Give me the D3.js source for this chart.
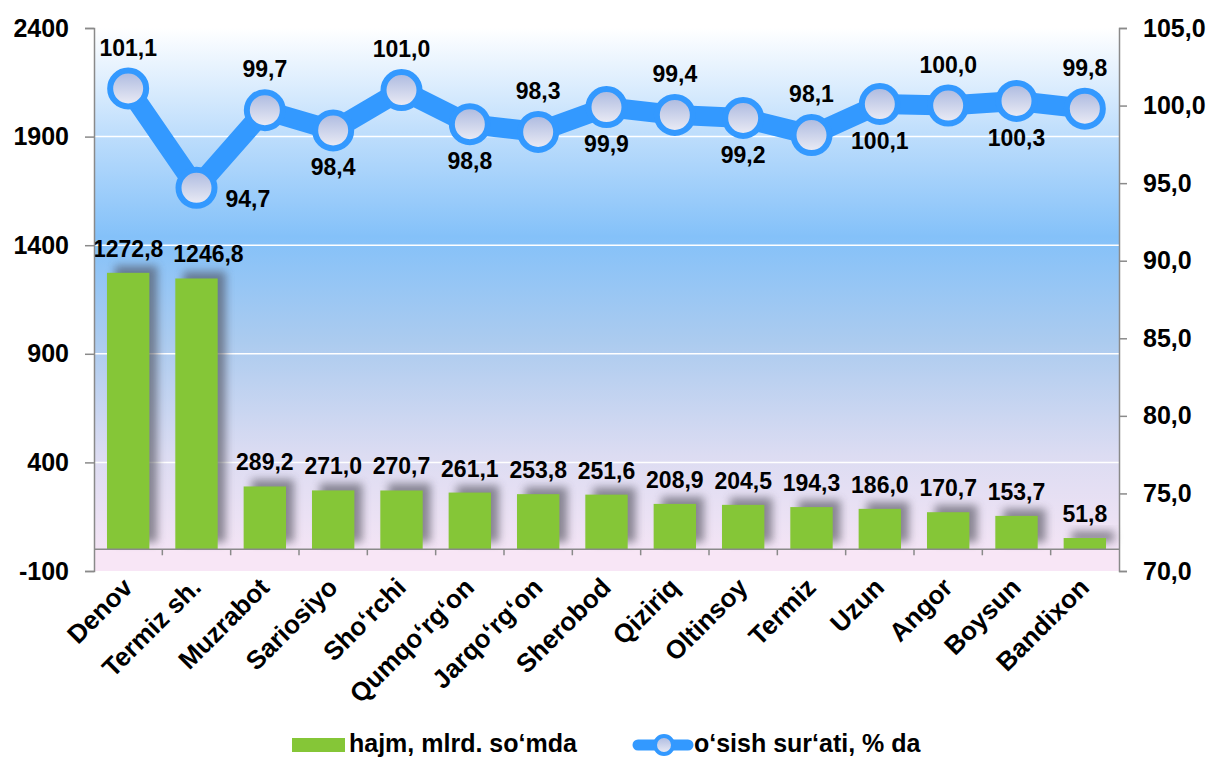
<!DOCTYPE html>
<html>
<head>
<meta charset="utf-8">
<script src="https://cdn.jsdelivr.net/npm/d3@7"></script>
<style>
  body { margin: 0; background: #fff; }
  svg { display: block; font-family: "Liberation Sans", Arial, sans-serif; font-weight: bold; }
</style>
</head>
<body>
<div id="chart"></div>
<script>
(function () {

// data
var districts = ["Denov", "Termiz sh.", "Muzrabot", "Sariosiyo", "Sho‘rchi", "Qumqo‘rg‘on",
  "Jarqo‘rg‘on", "Sherobod", "Qiziriq", "Oltinsoy", "Termiz", "Uzun", "Angor", "Boysun", "Bandixon"];
var volume = [1272.8, 1246.8, 289.2, 271.0, 270.7, 261.1, 253.8, 251.6, 208.9, 204.5, 194.3, 186.0, 170.7, 153.7, 51.8];
var growth = [101.1, 94.7, 99.7, 98.4, 101.0, 98.8, 98.3, 99.9, 99.4, 99.2, 98.1, 100.1, 100.0, 100.3, 99.8];
var leftTicks = [-100, 400, 900, 1400, 1900, 2400];
var rightTicks = [70, 75, 80, 85, 90, 95, 100, 105];
var legendNames = ["hajm, mlrd. so‘mda", "o‘sish sur‘ati, % da"];

var width = 1211, height = 758;
var margin = {top: 28, right: 92, bottom: 187, left: 94};
var innerW = width - margin.left - margin.right;
var innerH = height - margin.top - margin.bottom;

var barColor = "#85c637";
var lineColor = "#3399ff";
var comma = function (v) { return d3.format(".1f")(v).replace(".", ","); };

var svg = d3.select("#chart").append("svg")
    .attr("width", width)
    .attr("height", height);

var defs = svg.append("defs");

var bg = defs.append("linearGradient").attr("id", "bg")
    .attr("x1", 0).attr("y1", 0).attr("x2", 0).attr("y2", 1);
[["0%", "#ffffff"], ["20%", "#bfdefc"], ["40%", "#84c1f9"], ["60%", "#abcbef"],
 ["82%", "#dcdcf2"], ["100%", "#f3e4f5"]].forEach(function (s) {
  bg.append("stop").attr("offset", s[0]).attr("stop-color", s[1]);
});

var mk = defs.append("linearGradient").attr("id", "mk")
    .attr("x1", 0).attr("y1", 0).attr("x2", 0).attr("y2", 1);
mk.append("stop").attr("offset", "0%").attr("stop-color", "#aab8df");
mk.append("stop").attr("offset", "100%").attr("stop-color", "#eeeef6");

var sh = defs.append("filter").attr("id", "shadow")
    .attr("x", "-50%").attr("y", "-50%").attr("width", "200%").attr("height", "200%");
sh.append("feGaussianBlur").attr("stdDeviation", 4.5);

var g = svg.append("g").attr("transform", "translate(" + margin.left + "," + margin.top + ")");

var x = d3.scaleBand().domain(districts).range([0, innerW]).paddingInner(0.38).paddingOuter(0.19);
var xb = d3.scaleBand().domain(districts).range([0, innerW]);
var yL = d3.scaleLinear().domain([-100, 2400]).range([innerH, 0]);
var yR = d3.scaleLinear().domain([70, 105]).range([innerH, 0]);

// plot background
g.append("rect")
    .attr("width", innerW).attr("height", yL(0))
    .attr("fill", "url(#bg)");
g.append("rect")
    .attr("y", yL(0)).attr("width", innerW).attr("height", innerH - yL(0))
    .attr("fill", "#f8e6f6");

// gridlines
g.selectAll(".grid")
    .data(leftTicks.filter(function (d) { return d > 0 && d < 2400; }))
    .enter().append("line")
    .attr("x1", 0).attr("x2", innerW)
    .attr("y1", function (d) { return yL(d); })
    .attr("y2", function (d) { return yL(d); })
    .attr("stroke", "#fff").attr("stroke-width", 1.5);

// bar shadows
g.selectAll(".shadow")
    .data(volume)
    .enter().append("rect")
    .attr("x", function (d, i) { return x(districts[i]) + 8; })
    .attr("y", function (d) { return yL(d) - 7; })
    .attr("width", x.bandwidth())
    .attr("height", function (d) { return yL(0) - yL(d); })
    .attr("fill", "#4a4a55")
    .attr("opacity", 0.6)
    .attr("filter", "url(#shadow)");

// bars
g.selectAll(".bar")
    .data(volume)
    .enter().append("rect")
    .attr("x", function (d, i) { return x(districts[i]); })
    .attr("y", function (d) { return yL(d); })
    .attr("width", x.bandwidth())
    .attr("height", function (d) { return yL(0) - yL(d); })
    .attr("fill", barColor);

// zero axis with band ticks
g.append("line")
    .attr("x1", 0).attr("x2", innerW)
    .attr("y1", yL(0)).attr("y2", yL(0))
    .attr("stroke", "#8a8a8a").attr("stroke-width", 1.5);
g.selectAll(".xtick")
    .data(districts.slice(1))
    .enter().append("line")
    .attr("x1", function (d) { return xb(d); })
    .attr("x2", function (d) { return xb(d); })
    .attr("y1", yL(0)).attr("y2", yL(0) + 6)
    .attr("stroke", "#8a8a8a").attr("stroke-width", 1.5);

// bar labels (second one nudged right so it clears the first)
g.selectAll(".blabel")
    .data(volume)
    .enter().append("text")
    .attr("x", function (d, i) { return x(districts[i]) + x.bandwidth() / 2 + (i === 1 ? 12 : 0); })
    .attr("y", function (d) { return yL(d) - 16; })
    .attr("text-anchor", "middle")
    .attr("font-size", 23)
    .attr("fill", "#000")
    .text(function (d) { return comma(d); });

// left and right axes
var axL = g.append("g")
    .call(d3.axisLeft(yL).tickValues(leftTicks).tickSize(9).tickPadding(16)
      .tickFormat(function (d) { return String(d); }));
var axR = g.append("g").attr("transform", "translate(" + innerW + ",0)")
    .call(d3.axisRight(yR).tickValues(rightTicks).tickSize(8).tickPadding(16).tickFormat(comma));
[axL, axR].forEach(function (ax) {
  ax.select(".domain").attr("stroke", "#8a8a8a").attr("stroke-width", 1.5);
  ax.selectAll(".tick line").attr("stroke", "#8a8a8a").attr("stroke-width", 1.5);
  ax.selectAll("text").attr("font-size", 25).attr("font-family", "Liberation Sans, Arial, sans-serif")
    .attr("font-weight", "bold").attr("fill", "#000");
});

// category labels
g.selectAll(".xlabel")
    .data(districts)
    .enter().append("text")
    .attr("transform", function (d) {
      return "translate(" + (xb(d) + xb.bandwidth() / 2 + 6) + "," + (innerH + 18) + ") rotate(-45)";
    })
    .attr("text-anchor", "end")
    .attr("font-size", 26)
    .attr("fill", "#000")
    .text(function (d) { return d; });

// growth line
var line = d3.line()
    .x(function (d, i) { return xb(districts[i]) + xb.bandwidth() / 2; })
    .y(function (d) { return yR(d); });

g.append("path")
    .datum(growth)
    .attr("d", line)
    .attr("fill", "none")
    .attr("stroke", lineColor)
    .attr("stroke-width", 20)
    .attr("stroke-linejoin", "round");

g.selectAll(".marker")
    .data(growth)
    .enter().append("circle")
    .attr("cx", function (d, i) { return xb(districts[i]) + xb.bandwidth() / 2; })
    .attr("cy", function (d) { return yR(d); })
    .attr("r", 18)
    .attr("fill", "url(#mk)")
    .attr("stroke", lineColor)
    .attr("stroke-width", 6);

// growth labels, alternating above/below
g.selectAll(".glabel")
    .data(growth)
    .enter().append("text")
    .attr("x", function (d, i) {
      var cx = xb(districts[i]) + xb.bandwidth() / 2;
      return i === 1 ? cx + 29 : cx;
    })
    .attr("y", function (d, i) {
      if (i === 1) return yR(d) + 19;
      return i % 2 === 0 ? yR(d) - 33 : yR(d) + 45;
    })
    .attr("text-anchor", function (d, i) { return i === 1 ? "start" : "middle"; })
    .attr("font-size", 23)
    .attr("fill", "#000")
    .text(function (d) { return comma(d); });

// legend
var lg = svg.append("g");
lg.append("rect")
    .attr("x", 292).attr("y", 738).attr("width", 53).attr("height", 14)
    .attr("fill", barColor);
lg.append("text")
    .attr("x", 349).attr("y", 752)
    .attr("font-size", 25)
    .text(legendNames[0]);
lg.append("line")
    .attr("x1", 638).attr("x2", 688).attr("y1", 745).attr("y2", 745)
    .attr("stroke", lineColor).attr("stroke-width", 11).attr("stroke-linecap", "round");
lg.append("circle")
    .attr("cx", 664).attr("cy", 745).attr("r", 9)
    .attr("fill", "url(#mk)").attr("stroke", lineColor).attr("stroke-width", 4);
lg.append("text")
    .attr("x", 694).attr("y", 752)
    .attr("font-size", 25)
    .text(legendNames[1]);

})();
</script>
</body>
</html>
